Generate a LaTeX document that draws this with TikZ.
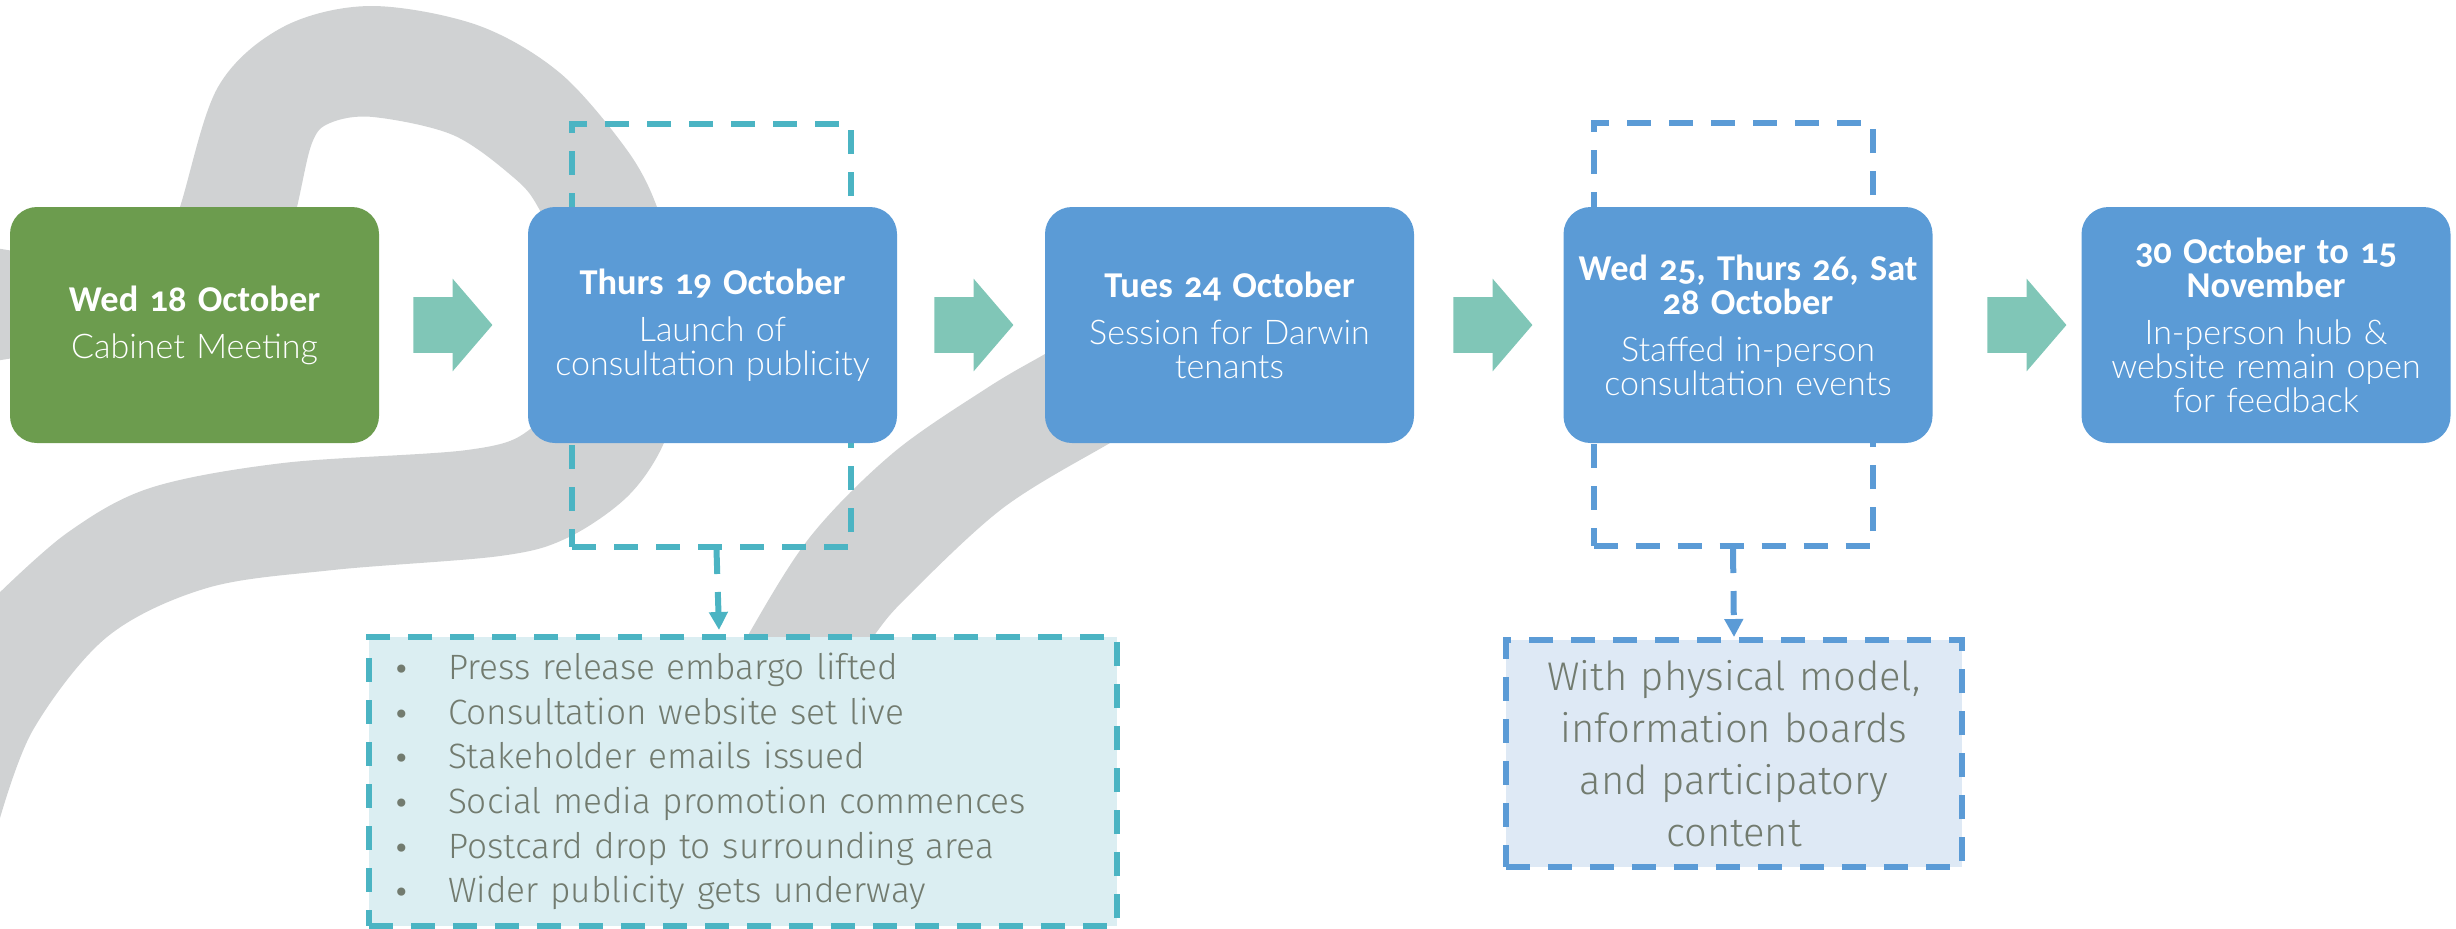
\documentclass[tikz,border=0pt]{standalone}
\usepackage{fontspec}
\setmainfont{Lato Light}[WordSpace=0.85,BoldFont={Carlito Bold},BoldFeatures={Numbers=OldStyle,Scale=1.07,WordSpace=0.8}]
\newfontfamily\detailfont{Fira Sans Light}[WordSpace=0.75]
\newfontfamily\bulletfont{DejaVu Sans}
\usetikzlibrary{shapes.arrows,arrows.meta}
\definecolor{ribbongrey}{HTML}{D0D2D3}
\definecolor{greenbox}{HTML}{6C9C4E}
\definecolor{bluebox}{HTML}{5B9BD6}
\definecolor{arrowteal}{HTML}{80C6B7}
\definecolor{dashteal}{HTML}{4BB4C3}
\definecolor{listteal}{HTML}{DBEEF2}
\definecolor{listblue}{HTML}{DEE9F5}
\definecolor{greytext}{HTML}{727B6F}
\newcommand{\detailitem}[1]{\makebox[26.5pt][l]{\hspace{-1pt}{\bulletfont\fontsize{14}{14}\selectfont •}}#1}
\tikzset{
  stage/.style={rounded corners=13.5pt,minimum width=184.5pt,minimum height=118pt,inner sep=0pt,text=white,align=center,text width=178pt,font=\fontsize{17}{17}\selectfont},
  flowarrow/.style={single arrow,fill=arrowteal,anchor=tail,inner sep=0pt,text width=1pt,text height=27.5pt,text depth=0pt,minimum height=39.5pt,minimum width=46pt,single arrow head extend=9.25pt,single arrow tip angle=98.7},
  dashline/.style={line width=3pt,dash pattern=on 12pt off 9pt},
  framebox/.style={dashline,inner sep=0pt,minimum width=139.5pt,minimum height=211.5pt},
  pointer/.style={dashline,-{Triangle[length=9pt,width=9pt]}},
}
\begin{document}
\begin{tikzpicture}[x=0.5pt,y=-0.5pt]
\useasboundingbox (0,0) rectangle (2456,928);
\begin{scope}
\clip (0,0) rectangle (2456,928);
% ribbon A
\fill[ribbongrey] plot[smooth,tension=0.55] coordinates {(-5,248) (60,262) (150,300) (180,207) (218,87) (283,27) (370,6) (477,25) (560,73) (627,150) (657,207) (672,270) (680,380) (663,445) (627,497) (567,538) (500,556) (333,570) (207,588) (107,637) (33,730) (-2,825)}
 -- plot[smooth,tension=0.55] coordinates {(-5,597) (67,533) (150,488) (283,463) (467,450) (529,430) (560,380) (565,270) (538,207) (513,177) (453,135) (373,117) (330,123) (312,143) (297,207) (275,300) (-5,361)} -- cycle;
% ribbon B
\fill[ribbongrey] plot[smooth,tension=0.55] coordinates {(715,700) (747,637) (810,537) (893,453) (987,388) (1045,354) (1100,323)}
 -- plot[smooth,tension=0.55] coordinates {(1170,410) (1110,443) (1003,508) (907,597) (873,637) (830,700)} -- cycle;
\end{scope}
% dashed frames behind the boxes
\node[framebox,draw=dashteal] (pubframe) at (711.5,335.5) {};
\node[framebox,draw=bluebox] (eventframe) at (1733,334.5) {};
% stages
\node[stage,fill=greenbox] (s1) at (194.5,325) {\textbf{Wed 18 October}\\[6.5pt]Cabinet Meeting};
\node[stage,fill=bluebox] (s2) at (712.5,325) {\textbf{Thurs 19 October}\\[6.5pt]Launch of\\consultation publicity};
\node[stage,fill=bluebox] (s3) at (1229.5,325) {\textbf{Tues 24 October}\\[6.5pt]Session for Darwin\\tenants};
\node[stage,fill=bluebox] (s4) at (1748,325) {\textbf{Wed 25, Thurs 26, Sat}\\\textbf{28 October}\\[6.5pt]Staffed in-person\\consultation events};
\node[stage,fill=bluebox] (s5) at (2266,325) {\textbf{30 October to 15}\\\textbf{November}\\[6.5pt]In-person hub \&\\website remain open\\for feedback};
% block arrows
\node[flowarrow] (a1) at (413,325) {};
\node[flowarrow] (a2) at (934,325) {};
\node[flowarrow] (a3) at (1453,325) {};
\node[flowarrow] (a4) at (1987,325) {};
% detail boxes
\node[dashline,draw=dashteal,fill=listteal,minimum width=374pt,minimum height=144.5pt,inner sep=0pt,text=greytext,text width=348pt,align=left,font=\fontsize{17.6}{22.35}\selectfont\detailfont] (publist) at (743,781.5) {%
\detailitem{Press release embargo lifted}\\
\detailitem{Consultation website set live}\\
\detailitem{Stakeholder emails issued}\\
\detailitem{Social media promotion commences}\\
\detailitem{Postcard drop to surrounding area}\\
\detailitem{Wider publicity gets underway}};
\node[dashline,draw=bluebox,fill=listblue,minimum width=228pt,minimum height=113.5pt,inner sep=0pt,text=greytext,text width=220pt,align=center,font=\fontsize{20}{26}\selectfont\detailfont] (eventlist) at (1734,753.5) {With physical model,\\information boards\\and participatory\\content};
% dashed connectors
\draw[pointer,draw=dashteal] ([xshift=2.5pt]pubframe.south) -- ([xshift=-12pt,yshift=2pt]publist.north);
\draw[pointer,draw=bluebox] (eventframe.south) -- (eventlist.north);
\end{tikzpicture}
\end{document}
